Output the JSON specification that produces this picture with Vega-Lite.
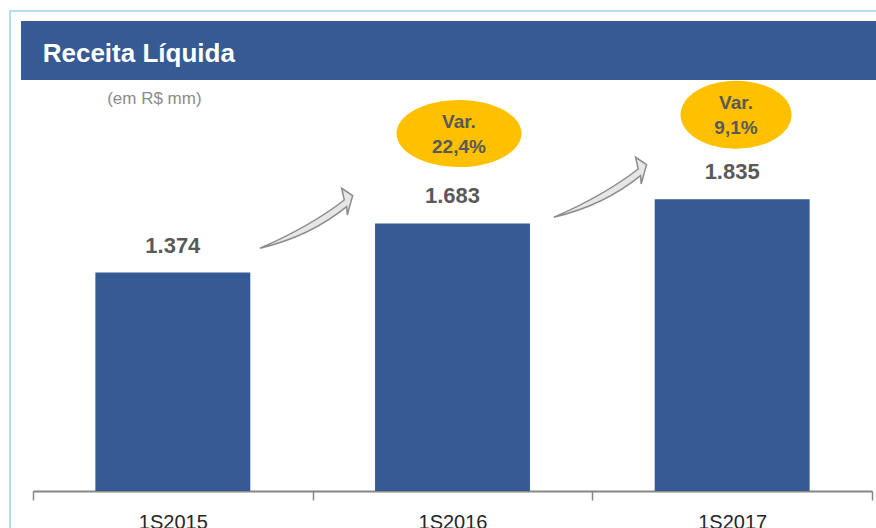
{
  "$schema": "https://vega.github.io/schema/vega-lite/v6.json",
  "width": 839,
  "height": 470,
  "autosize": {"type": "none"},
  "padding": {"left": 33, "top": 21, "right": 4, "bottom": 37},
  "background": "white",
  "config": {"view": {"stroke": null}},
  "resolve": {"scale": {"x": "independent"}, "axis": {"x": "independent"}},
  "layer": [
    {
      "data": {"values": [
        {"periodo": "1S2015", "receita": 1374, "rotulo": "1.374"},
        {"periodo": "1S2016", "receita": 1683, "rotulo": "1.683"},
        {"periodo": "1S2017", "receita": 1835, "rotulo": "1.835"}
      ]},
      "encoding": {
        "x": {"field": "periodo", "type": "nominal", "sort": null,
          "scale": {"paddingInner": 0, "paddingOuter": 0},
          "axis": {"title": null, "labelAngle": 0, "domainColor": "#868686", "domainWidth": 2,
            "tickBand": "extent", "tickColor": "#868686", "tickWidth": 1.5, "tickSize": 9,
            "labelPadding": 12, "labelFont": "Liberation Sans Narrow, Arial Narrow, Liberation Sans",
            "labelFontSize": 20, "labelColor": "#262626"}},
        "y": {"field": "receita", "type": "quantitative", "scale": {"domain": [0, 2956], "nice": false}, "axis": null}
      },
      "layer": [
        {"mark": {"type": "bar", "color": "#365A93", "width": {"band": 0.554}}},
        {"mark": {"type": "text", "dy": -27, "baseline": "middle", "font": "Liberation Sans Narrow, Arial Narrow, Liberation Sans",
          "fontWeight": "bold", "fontSize": 22, "color": "#595959"},
          "encoding": {"text": {"field": "rotulo"}}}
      ]
    },
    {
      "data": {"values": [{}]},
      "layer": [
        {"mark": {"type": "rect", "fill": null, "stroke": "#9DD3EE", "strokeWidth": 1.5, "clip": false},
          "encoding": {
            "x": {"datum": -0.0822, "type": "quantitative", "scale": {"domain": [0, 3], "nice": false, "zero": false}, "axis": null},
            "x2": {"datum": 3.1},
            "y": {"datum": -400, "type": "quantitative", "scale": {"domain": [0, 2956], "nice": false}, "axis": null},
            "y2": {"datum": 3019}
          }},
        {"mark": {"type": "rect", "fill": "#365A93", "clip": false},
          "encoding": {
            "x": {"datum": -0.0429, "type": "quantitative"},
            "x2": {"datum": 3.1},
            "y": {"datum": 2585, "type": "quantitative"},
            "y2": {"datum": 2956}
          }},
        {"mark": {"type": "text", "text": "Receita Líquida", "align": "left", "baseline": "alphabetic",
          "font": "Liberation Sans Narrow, Arial Narrow, Liberation Sans", "fontWeight": "bold", "fontSize": 26, "color": "white"},
          "encoding": {"x": {"datum": 0.0347, "type": "quantitative"}, "y": {"datum": 2700, "type": "quantitative"}}},
        {"mark": {"type": "text", "text": "(em R$ mm)", "align": "center", "baseline": "alphabetic",
          "font": "Liberation Sans Narrow, Arial Narrow, Liberation Sans", "fontSize": 17, "color": "#8C8C8C"},
          "encoding": {"x": {"datum": 0.434, "type": "quantitative"}, "y": {"datum": 2434, "type": "quantitative"}}},
        {"mark": {"type": "point", "filled": true, "opacity": 1, "size": 10000, "fill": "#E6E6E6", "stroke": "#8C8C8C", "strokeWidth": 1.5,
          "shape": "M -0.92 0.526 Q 0.081 0.29 0.814 -0.306 L 0.826 -0.14 L 0.934 -0.526 L 0.714 -0.674 L 0.766 -0.44 Q 0.105 0.077 -0.92 0.526 Z"},
          "encoding": {"x": {"datum": 0.976, "type": "quantitative"}, "y": {"datum": 1692, "type": "quantitative"}}},
        {"mark": {"type": "point", "filled": true, "opacity": 1, "size": 10000, "fill": "#E6E6E6", "stroke": "#8C8C8C", "strokeWidth": 1.5,
          "shape": "M -0.92 0.526 Q 0.081 0.29 0.814 -0.306 L 0.826 -0.14 L 0.934 -0.526 L 0.714 -0.674 L 0.766 -0.44 Q 0.105 0.077 -0.92 0.526 Z"},
          "encoding": {"x": {"datum": 2.027, "type": "quantitative"}, "y": {"datum": 1887, "type": "quantitative"}}},
        {"mark": {"type": "point", "filled": true, "opacity": 1, "size": 15625, "color": "#FFC000", "strokeWidth": 0,
          "shape": "M1,0C1,0.296,0.552,0.536,0,0.536C-0.552,0.536,-1,0.296,-1,0C-1,-0.296,-0.552,-0.536,0,-0.536C0.552,-0.536,1,-0.296,1,0Z"},
          "encoding": {"x": {"datum": 1.5232, "type": "quantitative"}, "y": {"datum": 2248, "type": "quantitative"}}},
        {"mark": {"type": "point", "filled": true, "opacity": 1, "size": 12321, "color": "#FFC000", "strokeWidth": 0,
          "shape": "M1,0C1,0.339,0.552,0.613,0,0.613C-0.552,0.613,-1,0.339,-1,0C-1,-0.339,-0.552,-0.613,0,-0.613C0.552,-0.613,1,-0.339,1,0Z"},
          "encoding": {"x": {"datum": 2.5137, "type": "quantitative"}, "y": {"datum": 2367, "type": "quantitative"}}},
        {"mark": {"type": "text", "text": ["Var.", "22,4%"], "lineHeight": 25, "align": "center", "baseline": "middle",
          "font": "Liberation Sans Narrow, Arial Narrow, Liberation Sans", "fontWeight": "bold", "fontSize": 19, "color": "#595959"},
          "encoding": {"x": {"datum": 1.5232, "type": "quantitative"}, "y": {"datum": 2322, "type": "quantitative"}}},
        {"mark": {"type": "text", "text": ["Var.", "9,1%"], "lineHeight": 25, "align": "center", "baseline": "middle",
          "font": "Liberation Sans Narrow, Arial Narrow, Liberation Sans", "fontWeight": "bold", "fontSize": 19, "color": "#595959"},
          "encoding": {"x": {"datum": 2.5137, "type": "quantitative"}, "y": {"datum": 2438, "type": "quantitative"}}}
      ]
    }
  ]
}
